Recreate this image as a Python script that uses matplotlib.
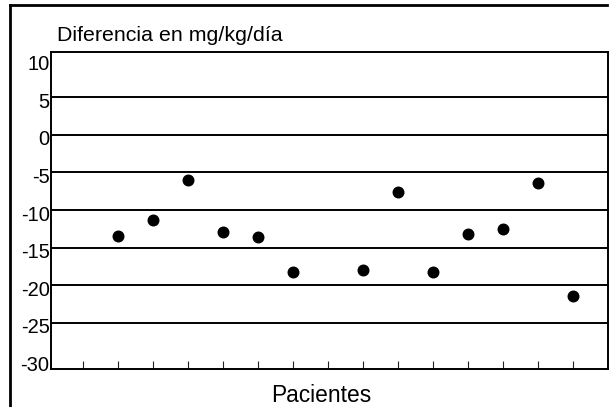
import matplotlib
matplotlib.use("Agg")
import matplotlib.pyplot as plt
from matplotlib.lines import Line2D
from matplotlib.transforms import ScaledTranslation

plt.rcParams['font.family'] = ['Liberation Sans', 'DejaVu Sans']

# Data
patients = [2, 3, 4, 5, 6, 7, 9, 10, 11, 12, 13, 14, 15]
diferencia = [-13.5, -11.3, -6.0, -12.9, -13.65, -18.2, -18.0, -7.6, -18.2, -13.2, -12.5, -6.45, -21.5]
xticks = list(range(1, 16))
yticks = [-30, -25, -20, -15, -10, -5, 0, 5, 10]
gridvals = [-25, -20, -15, -10, -5, 0, 5]
title = "Diferencia en mg/kg/día"
xlabel = "Pacientes"

W, H = 615, 407
fig = plt.figure(figsize=(W / 100, H / 100), dpi=100)
ax = fig.add_axes([51 / W, 1 - 369 / H, (608 - 51) / W, (369 - 52) / H])

for g in gridvals:
    ax.axhline(g, color='black', linewidth=1.4, zorder=1)

ax.plot(patients, diferencia, linestyle='none', marker='o', markersize=7.6,
        color='black', zorder=3)

ax.set_xlim(0.1, 16.0)
ax.set_ylim(-31.16, 11.04)

ax.set_xticks(xticks)
ax.set_xticklabels([])
ax.tick_params(axis='x', direction='in', length=6, width=0.8, color='#222222')

ax.set_yticks(yticks)
ax.set_yticklabels([str(v) for v in yticks], fontsize=14.5)
ax.tick_params(axis='y', length=0, pad=1)
off = ScaledTranslation(0, -3 / 100, fig.dpi_scale_trans)
for lab in ax.get_yticklabels():
    lab.set_transform(lab.get_transform() + off)

for s in ax.spines.values():
    s.set_linewidth(1.4)
    s.set_color('black')

# outer frame (left and top)
fig.add_artist(Line2D([10 / W, 10 / W], [0, 1 - 5 / H], transform=fig.transFigure,
                      color='black', linewidth=2))
fig.add_artist(Line2D([10 / W, 607 / W], [1 - 5 / H, 1 - 5 / H], transform=fig.transFigure,
                      color='black', linewidth=2))

fig.text(56.7 / W, 1 - 41 / H, title, fontsize=15.4, ha='left', va='baseline')
fig.text(321.7 / W, 1 - 401.5 / H, xlabel, fontsize=16.4, ha='center', va='baseline')

fig.savefig('out.png', dpi=100)
